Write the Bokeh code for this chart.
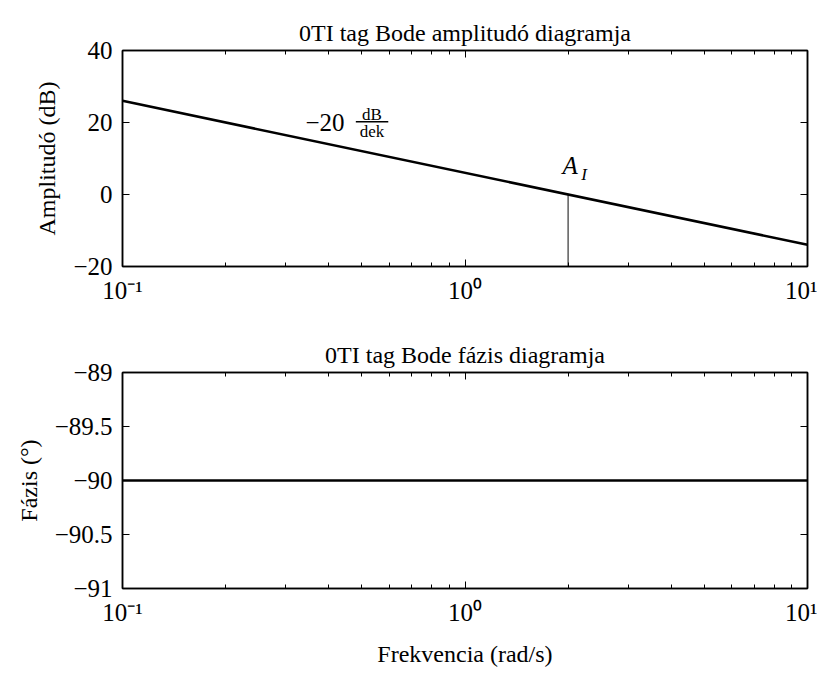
from bokeh.plotting import figure
from bokeh.layouts import column
from bokeh.models import (LogAxis, LinearAxis, Label, FixedTicker,
                          CustomJSTickFormatter, Range1d)
from bokeh.embed import file_html
from bokeh.resources import INLINE

# ---------------- data ----------------
freq = [0.1, 10.0]                 # rad/s
amp_db = [26.02, -13.98]           # dB  (-20 dB/decade)
phase_deg = [-90.0, -90.0]         # degrees
cross_freq = [2.0]                 # A_I marker frequency
cross_amp = [0.0]
amp_floor = [-20.0]

x_major = [0.1, 1.0, 10.0]
x_minor = [m * d for d in (0.1, 1.0) for m in range(2, 10)]
amp_ticks = [-20, 0, 20, 40]
phase_ticks = [-91, -90.5, -90, -89.5, -89]

FONT = "Liberation Serif"
TICK_FS = "25px"
LABEL_FS = "24px"
TITLE_FS = "24px"

x_fmt = CustomJSTickFormatter(code="""
const sup = {'-':'\u207b','0':'\u2070','1':'\u00b9','2':'\u00b2','3':'\u00b3',
             '4':'\u2074','5':'\u2075','6':'\u2076','7':'\u2077','8':'\u2078','9':'\u2079'};
const e = String(Math.round(Math.log10(tick)));
let s = '';
for (const c of e) s += sup[c];
return '10' + s;
""")
y_fmt = CustomJSTickFormatter(code="return String(tick).replace('-', '\u2212');")
blank_fmt = CustomJSTickFormatter(code="return '';")


def style_axis(ax, minor=True, labels=True):
    ax.axis_line_color = "black"
    ax.axis_line_width = 1.5
    ax.major_tick_in = 7
    ax.major_tick_out = 0
    ax.major_tick_line_color = "black"
    ax.major_tick_line_width = 1
    if minor:
        ax.minor_tick_in = 4
        ax.minor_tick_out = 0
        ax.minor_tick_line_color = "black"
    else:
        ax.minor_tick_line_color = None
    ax.major_label_text_font = FONT
    ax.major_label_text_color = "black"
    if labels:
        ax.major_label_text_font_size = TICK_FS
        ax.major_label_standoff = 10
    else:
        ax.major_label_text_font_size = "0px"
        ax.major_label_standoff = 0
    ax.axis_label_text_font = FONT
    ax.axis_label_text_font_size = LABEL_FS
    ax.axis_label_text_font_style = "normal"
    ax.axis_label_text_color = "black"


def make_fig(title, yrange, yticks, ylabel, xlabel, top, bottom):
    p = figure(x_axis_type="log", x_range=Range1d(0.1, 10), y_range=Range1d(*yrange),
               frame_width=685, frame_height=216,
               min_border_left=122, min_border_right=10,
               min_border_top=top, min_border_bottom=bottom,
               output_backend="svg", toolbar_location=None, title=title)
    p.title.text_font = FONT
    p.title.text_font_size = TITLE_FS
    p.title.text_font_style = "normal"
    p.title.align = "center"
    p.title.text_color = "black"
    p.grid.visible = False
    p.outline_line_color = "black"
    p.outline_line_width = 1.5
    p.background_fill_color = "white"
    p.border_fill_color = "white"

    xt = FixedTicker(ticks=x_major, minor_ticks=x_minor)
    yt = FixedTicker(ticks=yticks)

    xa = p.xaxis[0]
    xa.ticker = xt
    xa.formatter = x_fmt
    xa.axis_label = xlabel
    xa.axis_label_standoff = 12
    style_axis(xa)
    ya = p.yaxis[0]
    ya.ticker = yt
    ya.formatter = y_fmt
    ya.axis_label = ylabel
    ya.axis_label_standoff = 10
    style_axis(ya, minor=False)

    top_ax = LogAxis(ticker=xt, formatter=blank_fmt)
    style_axis(top_ax, labels=False)
    p.add_layout(top_ax, "above")
    right_ax = LinearAxis(ticker=yt, formatter=blank_fmt)
    style_axis(right_ax, minor=False, labels=False)
    p.add_layout(right_ax, "right")
    return p


# ---------------- amplitude plot ----------------
p1 = make_fig("0TI tag Bode amplitudó diagramja", (-20, 40), amp_ticks,
              "Amplitudó (dB)", None, 50, 44)
p1.segment(x0=cross_freq, y0=amp_floor, x1=cross_freq, y1=cross_amp,
           line_color="#333333", line_width=1.2)
p1.line(freq, amp_db, line_color="black", line_width=2.6)

# slope annotation  "−20 dB/dek"
p1.add_layout(Label(x=0.342, y=20, text="\u221220", text_baseline="middle",
                    text_font=FONT, text_font_size="25px", text_color="black"))
p1.add_layout(Label(x=0.535, y=22.2, text="dB", text_align="center", text_baseline="middle",
                    text_font=FONT, text_font_size="17px", text_color="black"))
p1.add_layout(Label(x=0.535, y=17.4, text="dek", text_align="center", text_baseline="middle",
                    text_font=FONT, text_font_size="17px", text_color="black"))
p1.segment(x0=[0.48], y0=[20.2], x1=[0.597], y1=[20.2], line_color="black", line_width=1.4)

# A_I label
p1.add_layout(Label(x=2.0, y=4.4, x_offset=2, text="A", text_align="center",
                    text_baseline="bottom", text_font=FONT, text_font_style="italic",
                    text_font_size="25px", text_color="black"))
p1.add_layout(Label(x=2.0, y=3.0, x_offset=16, text="I", text_align="center",
                    text_baseline="bottom", text_font=FONT, text_font_style="italic",
                    text_font_size="17px", text_color="black"))

# ---------------- phase plot ----------------
p2 = make_fig("0TI tag Bode fázis diagramja", (-91, -89), phase_ticks,
              "Fázis (°)", "Frekvencia (rad/s)", 62, 84)
p2.line(freq, phase_deg, line_color="black", line_width=2.6)

layout = column(p1, p2, spacing=0)
open("out.html", "w").write(file_html(layout, INLINE))
